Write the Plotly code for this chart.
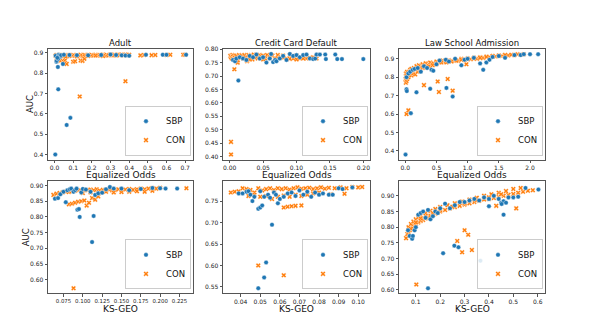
import plotly.graph_objects as go
from plotly.subplots import make_subplots

# ---- Adult: AUC vs Equalized Odds ----
adult_eo_sbp_x = [0.004, 0.006, 0.010, 0.012, 0.018, 0.020, 0.022, 0.025, 0.030, 0.035, 0.045, 0.050, 0.065, 0.085,
                  0.020, 0.015, 0.080, 0.120, 0.180, 0.250, 0.300, 0.330, 0.360, 0.380, 0.400, 0.490, 0.580, 0.600, 0.705]
adult_eo_sbp_y = [0.400, 0.885, 0.855, 0.860, 0.830, 0.720, 0.890, 0.885, 0.880, 0.888, 0.845, 0.890, 0.545, 0.580,
                  0.870, 0.875, 0.889, 0.888, 0.887, 0.889, 0.891, 0.889, 0.887, 0.886, 0.885, 0.890, 0.890, 0.890, 0.890]
adult_eo_con_x = [0.005, 0.010, 0.015, 0.020, 0.025, 0.030, 0.035, 0.040, 0.050, 0.060, 0.070, 0.080, 0.090, 0.100,
                  0.110, 0.120, 0.130, 0.140, 0.150, 0.160, 0.170, 0.180, 0.190, 0.200, 0.210, 0.220, 0.230, 0.240,
                  0.250, 0.260, 0.270, 0.280, 0.290, 0.300, 0.310, 0.320, 0.330, 0.340, 0.350, 0.360, 0.370, 0.380,
                  0.390, 0.400, 0.460, 0.480, 0.520, 0.540, 0.600, 0.620, 0.690, 0.700,
                  0.010, 0.020, 0.030, 0.050, 0.055, 0.065, 0.100, 0.110, 0.140, 0.150, 0.160, 0.135, 0.380,
                  0.020, 0.040, 0.060, 0.080, 0.120, 0.180, 0.220, 0.260, 0.320, 0.360]
adult_eo_con_y = [0.885, 0.889, 0.883, 0.887, 0.885, 0.889, 0.884, 0.888, 0.886, 0.889, 0.884, 0.888, 0.886, 0.889,
                  0.885, 0.888, 0.886, 0.890, 0.885, 0.889, 0.887, 0.890, 0.886, 0.889, 0.887, 0.890, 0.886, 0.889,
                  0.887, 0.891, 0.886, 0.889, 0.887, 0.891, 0.888, 0.890, 0.887, 0.891, 0.888, 0.890, 0.887, 0.891,
                  0.888, 0.890, 0.887, 0.889, 0.888, 0.889, 0.889, 0.890, 0.890, 0.890,
                  0.870, 0.875, 0.860, 0.855, 0.862, 0.845, 0.856, 0.858, 0.862, 0.860, 0.870, 0.685, 0.760,
                  0.884, 0.882, 0.880, 0.884, 0.882, 0.884, 0.886, 0.884, 0.888, 0.890]

# ---- Credit Card Default: AUC vs Equalized Odds ----
cc_eo_sbp_x = [0.005, 0.008, 0.010, 0.013, 0.015, 0.020, 0.025, 0.030, 0.035, 0.040, 0.045, 0.050, 0.055, 0.060,
               0.062, 0.065, 0.068, 0.070, 0.075, 0.080, 0.085, 0.090, 0.095, 0.100, 0.105, 0.110, 0.115, 0.120,
               0.125, 0.128, 0.130, 0.135, 0.143, 0.144, 0.158, 0.161, 0.168, 0.200]
cc_eo_sbp_y = [0.760, 0.755, 0.765, 0.683, 0.770, 0.765, 0.760, 0.775, 0.770, 0.780, 0.765, 0.770, 0.750, 0.765,
               0.782, 0.752, 0.760, 0.755, 0.765, 0.775, 0.760, 0.782, 0.775, 0.778, 0.770, 0.778, 0.780, 0.765,
               0.763, 0.765, 0.780, 0.780, 0.780, 0.763, 0.780, 0.763, 0.763, 0.763]
cc_eo_con_x = [0.001, 0.002, 0.003, 0.004, 0.005, 0.007, 0.008, 0.010, 0.012, 0.014, 0.016, 0.018, 0.020, 0.022,
               0.024, 0.026, 0.028, 0.030, 0.032, 0.034, 0.036, 0.038, 0.040, 0.042, 0.045, 0.048, 0.050, 0.053,
               0.056, 0.060, 0.064, 0.068, 0.072, 0.076, 0.080, 0.085, 0.090, 0.095, 0.100, 0.105, 0.110, 0.115,
               0.120, 0.125, 0.130, 0.002, 0.002, 0.007, 0.012, 0.026, 0.030, 0.040, 0.050, 0.060, 0.070, 0.080,
               0.090, 0.100, 0.110]
cc_eo_con_y = [0.775, 0.770, 0.765, 0.778, 0.772, 0.776, 0.768, 0.775, 0.750, 0.778, 0.770, 0.776, 0.765, 0.778,
               0.770, 0.755, 0.778, 0.765, 0.776, 0.762, 0.780, 0.770, 0.776, 0.765, 0.778, 0.770, 0.776, 0.765,
               0.778, 0.768, 0.776, 0.765, 0.778, 0.770, 0.776, 0.765, 0.778, 0.765, 0.776, 0.765, 0.770, 0.765,
               0.768, 0.770, 0.765, 0.455, 0.408, 0.725, 0.758, 0.758, 0.762, 0.770, 0.762, 0.770, 0.765, 0.768,
               0.764, 0.762, 0.765]

# ---- Law School Admission: AUC vs Equalized Odds ----
law_eo_sbp_x = [0.005, 0.020, 0.025, 0.090, 0.180, 0.400, 0.660, 0.760, 0.020, 0.050, 0.080, 0.120, 0.150, 0.200,
                0.250, 0.300, 0.350, 0.420, 0.450, 0.500, 0.550, 0.650, 0.700, 0.800, 0.900, 0.950, 1.000, 1.100,
                1.200, 1.250, 1.300, 1.350, 1.400, 1.500, 1.600, 1.750, 1.850, 1.900, 2.000, 2.130]
law_eo_sbp_y = [0.380, 0.735, 0.725, 0.605, 0.718, 0.737, 0.742, 0.695, 0.800, 0.820, 0.830, 0.840, 0.845, 0.850,
                0.830, 0.860, 0.850, 0.840, 0.835, 0.870, 0.890, 0.895, 0.885, 0.900, 0.865, 0.895, 0.900, 0.905,
                0.875, 0.840, 0.880, 0.895, 0.910, 0.915, 0.905, 0.920, 0.920, 0.925, 0.925, 0.925]
law_eo_con_x = [0.005, 0.010, 0.015, 0.020, 0.025, 0.030, 0.035, 0.040, 0.050, 0.060, 0.070, 0.080, 0.090, 0.100,
                0.120, 0.140, 0.160, 0.180, 0.200, 0.220, 0.250, 0.280, 0.300, 0.330, 0.360, 0.400, 0.450, 0.500,
                0.550, 0.600, 0.650, 0.700, 0.750, 0.800, 0.850, 0.900, 0.950, 1.000, 1.050, 1.100, 1.150, 1.200,
                1.250, 1.300, 1.350, 1.400, 1.450, 1.500, 1.550, 1.600, 1.650, 1.700, 1.750, 1.800, 1.850, 1.900,
                0.010, 0.020, 0.030, 0.050, 0.070, 0.100, 0.130, 0.160, 0.200, 0.240, 0.280, 0.320, 0.380, 0.440,
                0.500, 0.580, 0.660, 0.740, 0.820, 0.900, 1.000, 1.100, 1.200, 1.300, 1.400, 1.500, 1.600,
                0.020, 0.050, 0.300, 0.520, 0.540, 0.680, 0.760, 0.980]
law_eo_con_y = [0.790, 0.770, 0.800, 0.780, 0.810, 0.790, 0.820, 0.800, 0.810, 0.830, 0.815, 0.840, 0.825, 0.845,
                0.830, 0.850, 0.840, 0.860, 0.845, 0.865, 0.855, 0.870, 0.860, 0.875, 0.865, 0.880, 0.875, 0.885,
                0.880, 0.890, 0.885, 0.892, 0.888, 0.895, 0.890, 0.900, 0.893, 0.902, 0.897, 0.905, 0.900, 0.908,
                0.905, 0.912, 0.910, 0.915, 0.912, 0.918, 0.915, 0.920, 0.918, 0.922, 0.920, 0.924, 0.922, 0.925,
                0.820, 0.810, 0.830, 0.800, 0.830, 0.810, 0.820, 0.815, 0.830, 0.840, 0.850, 0.855, 0.860, 0.865,
                0.870, 0.880, 0.880, 0.885, 0.890, 0.895, 0.898, 0.900, 0.905, 0.910, 0.915, 0.918, 0.920,
                0.600, 0.620, 0.757, 0.777, 0.720, 0.790, 0.727, 0.870]

# ---- Adult: AUC vs KS-GEO ----
adult_ks_sbp_x = [0.064, 0.068, 0.071, 0.075, 0.078, 0.080, 0.083, 0.085, 0.088, 0.090, 0.092, 0.093, 0.095, 0.096,
                  0.098, 0.100, 0.104, 0.110, 0.112, 0.114, 0.116, 0.120, 0.125, 0.130, 0.135, 0.140, 0.150, 0.160,
                  0.175, 0.190, 0.200, 0.207, 0.222]
adult_ks_sbp_y = [0.858, 0.860, 0.872, 0.880, 0.847, 0.885, 0.888, 0.890, 0.880, 0.885, 0.890, 0.823, 0.825, 0.800,
                  0.878, 0.889, 0.887, 0.880, 0.720, 0.803, 0.870, 0.875, 0.877, 0.888, 0.895, 0.890, 0.890, 0.885,
                  0.889, 0.892, 0.891, 0.890, 0.890]
adult_ks_con_x = [0.062, 0.066, 0.070, 0.074, 0.078, 0.082, 0.086, 0.090, 0.094, 0.098, 0.102, 0.106, 0.110, 0.114,
                  0.118, 0.122, 0.126, 0.130, 0.134, 0.138, 0.142, 0.146, 0.150, 0.155, 0.160, 0.165, 0.170, 0.175,
                  0.180, 0.185, 0.190, 0.195, 0.200, 0.234,
                  0.082, 0.086, 0.090, 0.094, 0.098, 0.102, 0.105, 0.108, 0.112, 0.116, 0.120,
                  0.100, 0.110, 0.120, 0.130, 0.140, 0.150, 0.160, 0.170, 0.180, 0.190, 0.088]
adult_ks_con_y = [0.870, 0.874, 0.876, 0.878, 0.880, 0.879, 0.882, 0.883, 0.885, 0.884, 0.886, 0.885, 0.887, 0.885,
                  0.888, 0.884, 0.886, 0.885, 0.887, 0.884, 0.886, 0.888, 0.885, 0.887, 0.889, 0.886, 0.888, 0.890,
                  0.888, 0.890, 0.892, 0.890, 0.893, 0.891,
                  0.840, 0.842, 0.845, 0.848, 0.850, 0.852, 0.836, 0.845, 0.860, 0.855, 0.865,
                  0.876, 0.878, 0.875, 0.880, 0.878, 0.879, 0.880, 0.882, 0.880, 0.883, 0.573]

# ---- Credit Card Default: AUC vs KS-GEO ----
cc_ks_sbp_x = [0.039, 0.041, 0.043, 0.044, 0.045, 0.046, 0.047, 0.049, 0.049, 0.050, 0.050, 0.051, 0.052, 0.052,
               0.053, 0.054, 0.055, 0.056, 0.057, 0.058, 0.059, 0.060, 0.062, 0.064, 0.066, 0.068, 0.070, 0.072,
               0.074, 0.076, 0.078, 0.080, 0.082, 0.085, 0.087, 0.090, 0.092, 0.097]
cc_ks_sbp_y = [0.768, 0.768, 0.772, 0.773, 0.765, 0.750, 0.760, 0.547, 0.732, 0.735, 0.773, 0.740, 0.572, 0.760,
               0.607, 0.765, 0.758, 0.695, 0.770, 0.765, 0.745, 0.755, 0.760, 0.768, 0.770, 0.762, 0.775, 0.765,
               0.772, 0.760, 0.770, 0.765, 0.768, 0.765, 0.765, 0.780, 0.778, 0.782]
cc_ks_con_x = [0.035, 0.037, 0.039, 0.041, 0.043, 0.045, 0.047, 0.049, 0.051, 0.053, 0.055, 0.057, 0.059, 0.061,
               0.063, 0.065, 0.067, 0.069, 0.071, 0.073, 0.075, 0.077, 0.079, 0.081, 0.083, 0.085, 0.088, 0.091,
               0.094, 0.097, 0.100, 0.102,
               0.044, 0.047, 0.050, 0.053, 0.056, 0.059, 0.062, 0.065, 0.068, 0.071, 0.074, 0.077, 0.080, 0.086,
               0.093, 0.062, 0.064, 0.066, 0.068, 0.071, 0.049, 0.062]
cc_ks_con_y = [0.770, 0.772, 0.773, 0.780, 0.778, 0.776, 0.770, 0.780, 0.775, 0.778, 0.780, 0.776, 0.780, 0.778,
               0.780, 0.777, 0.780, 0.782, 0.779, 0.780, 0.781, 0.778, 0.780, 0.782, 0.779, 0.781, 0.780, 0.782,
               0.780, 0.783, 0.782, 0.783,
               0.762, 0.765, 0.760, 0.762, 0.755, 0.760, 0.763, 0.760, 0.765, 0.762, 0.765, 0.768, 0.770, 0.766,
               0.767, 0.735, 0.737, 0.738, 0.739, 0.740, 0.600, 0.577]

# ---- Law School Admission: AUC vs KS-GEO ----
law_ks_sbp_x = [0.068, 0.075, 0.085, 0.088, 0.095, 0.100, 0.110, 0.120, 0.130, 0.140, 0.150, 0.160, 0.170, 0.180,
                0.190, 0.200, 0.220, 0.240, 0.260, 0.280, 0.300, 0.320, 0.340, 0.360, 0.380, 0.400, 0.420, 0.440,
                0.450, 0.460, 0.470, 0.480, 0.500, 0.520, 0.550, 0.603,
                0.150, 0.212, 0.258, 0.275, 0.365, 0.400, 0.452, 0.460]
law_ks_sbp_y = [0.790, 0.772, 0.763, 0.772, 0.790, 0.800, 0.840, 0.845, 0.850, 0.830, 0.855, 0.825, 0.835, 0.850,
                0.845, 0.860, 0.875, 0.860, 0.870, 0.880, 0.880, 0.885, 0.890, 0.885, 0.895, 0.890, 0.900, 0.890,
                0.878, 0.883, 0.878, 0.895, 0.895, 0.897, 0.925, 0.920,
                0.605, 0.717, 0.741, 0.736, 0.693, 0.867, 0.874, 0.840]
law_ks_con_x = [0.060, 0.065, 0.070, 0.075, 0.080, 0.085, 0.090, 0.095, 0.100, 0.110, 0.120, 0.130, 0.140, 0.150,
                0.160, 0.170, 0.180, 0.190, 0.200, 0.220, 0.240, 0.260, 0.280, 0.300, 0.320, 0.340, 0.360, 0.380,
                0.400, 0.420, 0.440, 0.460, 0.480, 0.500, 0.520, 0.540, 0.560, 0.580,
                0.070, 0.080, 0.090, 0.100, 0.110, 0.120, 0.140, 0.160, 0.180, 0.200, 0.230, 0.260, 0.290, 0.320,
                0.350, 0.380, 0.410, 0.440, 0.470, 0.500, 0.530,
                0.080, 0.100, 0.120, 0.140, 0.170, 0.200, 0.250, 0.300, 0.350, 0.400, 0.450,
                0.102, 0.270, 0.290, 0.300, 0.315, 0.330, 0.430, 0.512]
law_ks_con_y = [0.765, 0.778, 0.785, 0.790, 0.795, 0.800, 0.805, 0.808, 0.810, 0.815, 0.820, 0.823, 0.828, 0.832,
                0.836, 0.840, 0.843, 0.846, 0.850, 0.855, 0.860, 0.864, 0.868, 0.872, 0.876, 0.880, 0.884, 0.888,
                0.890, 0.893, 0.897, 0.900, 0.903, 0.906, 0.910, 0.913, 0.916, 0.918,
                0.800, 0.810, 0.818, 0.825, 0.832, 0.838, 0.845, 0.852, 0.858, 0.864, 0.870, 0.876, 0.882, 0.888,
                0.894, 0.900, 0.905, 0.910, 0.915, 0.922, 0.925,
                0.795, 0.815, 0.828, 0.836, 0.845, 0.855, 0.865, 0.876, 0.885, 0.895, 0.905,
                0.617, 0.756, 0.720, 0.790, 0.776, 0.727, 0.868, 0.860]

datasets = ["Adult", "Credit Card Default", "Law School Admission"]
row_xlabels = ["Equalized Odds", "KS-GEO"]

panels = [
    # (row, col, sbp_x, sbp_y, con_x, con_y, xrange, yrange, xdtick, ydtick, xfmt, yfmt)
    (1, 1, adult_eo_sbp_x, adult_eo_sbp_y, adult_eo_con_x, adult_eo_con_y, [-0.035, 0.742], [0.375, 0.92], 0.1, 0.1, ".1f", ".1f"),
    (1, 2, cc_eo_sbp_x, cc_eo_sbp_y, cc_eo_con_x, cc_eo_con_y, [-0.01, 0.21], [0.389, 0.802], 0.05, 0.05, ".2f", ".2f"),
    (1, 3, law_eo_sbp_x, law_eo_sbp_y, law_eo_con_x, law_eo_con_y, [-0.1, 2.24], [0.353, 0.955], 0.5, 0.1, ".1f", ".1f"),
    (2, 1, adult_ks_sbp_x, adult_ks_sbp_y, adult_ks_con_x, adult_ks_con_y, [0.055, 0.2425], [0.557, 0.913], 0.025, 0.05, ".3f", ".2f"),
    (2, 2, cc_ks_sbp_x, cc_ks_sbp_y, cc_ks_con_x, cc_ks_con_y, [0.031, 0.106], [0.535, 0.796], 0.01, 0.05, ".2f", ".2f"),
    (2, 3, law_ks_sbp_x, law_ks_sbp_y, law_ks_con_x, law_ks_con_y, [0.031, 0.63], [0.589, 0.946], 0.1, 0.05, ".1f", ".2f"),
]

W, H = 601, 320
col_px = [(40, 185), (215, 362), (391, 537)]
row_px = [(38, 150), (172, 285)]
xlabel_y_px = [166, 301]
ylabel_x_px = [22, 18]

BLUE = "#1f77b4"
ORANGE = "#ff7f0e"
FONT = "DejaVu Sans"
TXT = "#111111"

fig = make_subplots(rows=2, cols=3)

for i, (r, c, sx, sy, cx, cy, xr, yr, xdt, ydt, xfmt, yfmt) in enumerate(panels):
    n = i + 1
    lg = "legend" if n == 1 else f"legend{n}"
    fig.add_trace(go.Scatter(
        x=cx, y=cy, mode="markers", name="CON", legend=lg, legendrank=2,
        marker=dict(symbol="x", size=4.5, color=ORANGE, line=dict(color="white", width=0.4)),
    ), row=r, col=c)
    fig.add_trace(go.Scatter(
        x=sx, y=sy, mode="markers", name="SBP", legend=lg, legendrank=1,
        marker=dict(symbol="circle", size=4.5, color=BLUE, line=dict(color="white", width=0.4)),
    ), row=r, col=c)

    x0, x1 = col_px[c - 1]
    y0, y1 = row_px[r - 1]
    dx = [x0 / W, x1 / W]
    dy = [1 - y1 / H, 1 - y0 / H]
    xa = "xaxis" if n == 1 else f"xaxis{n}"
    ya = "yaxis" if n == 1 else f"yaxis{n}"
    axis_common = dict(
        showgrid=False, zeroline=False, showline=True, mirror=True,
        linecolor="#555555", linewidth=1, ticks="outside", ticklen=2.5,
        tickcolor="#555555",
    )
    # the long 0.075-style labels need a slightly smaller font to stay apart
    xsize = 5.4 if xfmt == ".3f" else 6
    fig.layout[xa].update(domain=dx, range=xr, dtick=xdt, tick0=0, tickformat=xfmt, tickangle=0,
                          tickfont=dict(size=xsize, family=FONT, color="#222222"),
                          **axis_common)
    fig.layout[ya].update(domain=dy, range=yr, dtick=ydt, tick0=0, tickformat=yfmt,
                          tickfont=dict(size=6, family=FONT, color="#222222"),
                          **axis_common)
    fig.layout[lg] = dict(
        x=dx[1] - 2 / W, y=dy[0] + 4 / H, xanchor="right", yanchor="bottom",
        bgcolor="rgba(255,255,255,0.85)", bordercolor="#cccccc", borderwidth=1,
        font=dict(size=8.5, family=FONT, color=TXT),
        tracegroupgap=0, itemsizing="trace", itemwidth=30, traceorder="normal",
    )

    # x-axis label under every panel
    fig.add_annotation(
        text=row_xlabels[r - 1], xref="paper", yref="paper",
        x=(x0 + x1) / 2 / W, y=1 - xlabel_y_px[r - 1] / H,
        xanchor="center", yanchor="middle", showarrow=False,
        font=dict(size=9, family=FONT, color=TXT),
    )

# column titles
for c, name in enumerate(datasets):
    x0, x1 = col_px[c]
    fig.add_annotation(
        text=name, xref="paper", yref="paper",
        x=(x0 + x1) / 2 / W, y=1 - 32 / H,
        xanchor="center", yanchor="middle", showarrow=False,
        font=dict(size=8.5, family=FONT, color=TXT),
    )

# AUC labels on the left column
for r in range(2):
    y0, y1 = row_px[r]
    fig.add_annotation(
        text="AUC", xref="paper", yref="paper", textangle=-90,
        x=ylabel_x_px[r] / W, y=1 - (y0 + y1) / 2 / H,
        xanchor="center", yanchor="middle", showarrow=False,
        font=dict(size=8.5, family=FONT, color=TXT),
    )

fig.update_layout(
    width=W, height=H,
    margin=dict(l=0, r=0, t=0, b=0),
    paper_bgcolor="white", plot_bgcolor="white",
    font=dict(family=FONT),
)

fig.write_html("out.html")
